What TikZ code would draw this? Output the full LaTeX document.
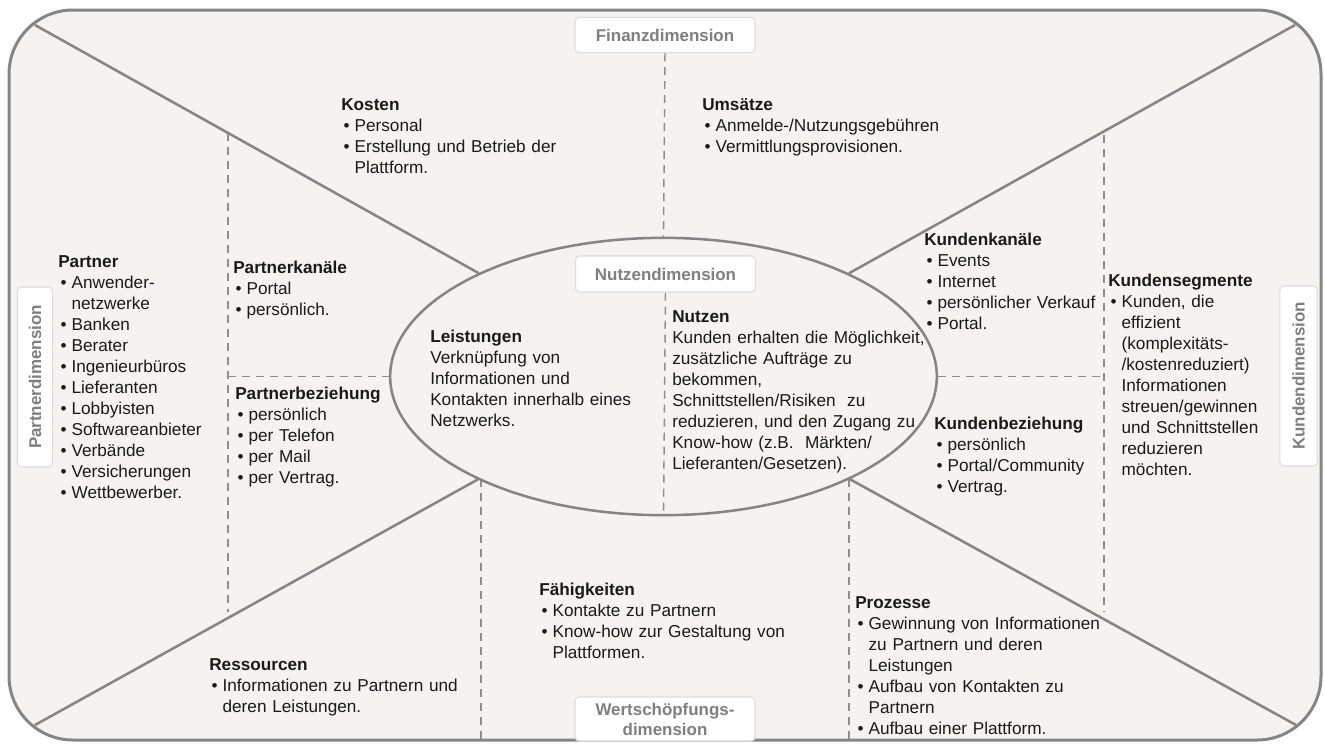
\documentclass[tikz,border=0pt]{standalone}
\usepackage{fontspec}
\setmainfont{Liberation Sans}
\usetikzlibrary{
  backgrounds,
  calc,
  shapes.geometric
}
\setlength{\parindent}{0pt}
\definecolor{ink}{HTML}{1A1A1A}
\definecolor{muted}{HTML}{7F7F7F}
\definecolor{linegray}{HTML}{858585}
\definecolor{dashgray}{HTML}{8E8E8E}
\definecolor{boxline}{HTML}{DCDCDC}
\definecolor{canvasfill}{HTML}{F6F2F2}
\newcommand{\itm}[1]{\par\hangindent=10pt\hangafter=1\noindent\makebox[10pt][l]{\hspace{1.8pt}\textbullet}#1\par}
\newcommand{\hd}[1]{\textbf{#1}}
\tikzset{
  font=\fontsize{12.9}{15.75}\selectfont,
  frame/.style={
    draw=linegray,
    line width=2.25pt,
    rounded corners=48pt,
    fill=canvasfill
  },
  divider/.style={draw=linegray, line width=1.9pt},
  sector/.style={draw=dashgray, line width=1.1pt, dash pattern=on 6pt off 4.5pt},
  core/.style={
    ellipse,
    draw=linegray,
    line width=1.9pt,
    minimum width=410pt,
    minimum height=208pt,
    inner sep=0pt
  },
  dimension/.style={
    draw=boxline,
    line width=0.8pt,
    fill=white,
    rounded corners=3pt,
    text=muted,
    font=\fontsize{12.7}{15}\selectfont\bfseries,
    align=center,
    minimum width=135pt,
    minimum height=26.5pt,
    inner sep=1pt
  },
  field/.style={anchor=north west, inner sep=0pt, text=ink, align=left, text width=8cm}
}

\begin{document}
\begin{tikzpicture}[x=0.75pt,y=-0.75pt]
  \useasboundingbox (0,0) rectangle (1325,743);

  % Centre ellipse and dimension labels
  \node[core] (nutzen) at (663.5,376.5) {};
  \node[dimension] (finanz) at (665,35) {Finanzdimension};
  \node[dimension, minimum height=27pt] (nutzendim) at (665.5,274) {Nutzendimension};
  \node[dimension, rotate=90] (partnerdim) at (35,377) {Partnerdimension};
  \node[dimension, rotate=90, minimum height=28pt] (kundendim) at (1298.5,376) {Kundendimension};
  \node[dimension, minimum height=33pt, inner sep=0pt] (wertdim) at (665,719)
    {Wertschöpfungs-\\dimension};

  % Corner points of the dividers
  \coordinate (tl) at (35,25);
  \coordinate (tr) at (1295,25);
  \coordinate (bl) at (35,725);
  \coordinate (br) at (1296,725);

  \begin{scope}[on background layer]
    \draw[frame] (9,10) rectangle (1321,740);
    \draw[divider] (tl) -- (nutzen);
    \draw[divider] (tr) -- (nutzen);
    \draw[divider] (bl) -- (nutzen);
    \draw[divider] (br) -- (nutzen);
    % Dashed sector borders
    \draw[sector] (finanz.south) -- (nutzen.north);
    \draw[sector] (nutzendim.south) -- (nutzen.south);
    \draw[sector] (228,133) -- (228,612);
    \draw[sector] (228,376.5) -- (nutzen.west);
    \draw[sector] (1104,135) -- (1104,612);
    \draw[sector] (nutzen.east) -- (1104,376.5);
    \draw[sector] (481,479) -- (481,740);
    \draw[sector] (849,479) -- (849,740);
  \end{scope}

  % Finance dimension
  \node[field] (kosten) at (341,98) {\hd{Kosten}
    \itm{Personal}
    \itm{Erstellung und Betrieb der\newline Plattform.}};
  \node[field] (umsaetze) at (702,98) {\hd{Umsätze}
    \itm{Anmelde-/Nutzungsgebühren}
    \itm{Vermittlungsprovisionen.}};

  % Partner dimension
  \node[field] (partner) at (58,255) {\hd{Partner}
    \itm{Anwender-\newline netzwerke}
    \itm{Banken}
    \itm{Berater}
    \itm{Ingenieurbüros}
    \itm{Lieferanten}
    \itm{Lobbyisten}
    \itm{Softwareanbieter}
    \itm{Verbände}
    \itm{Versicherungen}
    \itm{Wettbewerber.}};
  \node[field] (pkanaele) at (233,261) {\hd{Partnerkanäle}
    \itm{Portal}
    \itm{persönlich.}};
  \node[field] (pbeziehung) at (235,387) {\hd{Partnerbeziehung}
    \itm{persönlich}
    \itm{per Telefon}
    \itm{per Mail}
    \itm{per Vertrag.}};

  % Benefit dimension
  \node[field] (leistungen) at (430,330) {\hd{Leistungen}\newline
    Verknüpfung von\newline
    Informationen und\newline
    Kontakten innerhalb eines\newline
    Netzwerks.};
  \node[field] (nutzentext) at (672,310) {\hd{Nutzen}\newline
    Kunden erhalten die Möglichkeit,\newline
    zusätzliche Aufträge zu\newline
    bekommen,\newline
    Schnittstellen/Risiken \ zu\newline
    reduzieren, und den Zugang zu\newline
    Know-how (z.B.\ \ Märkten/\newline
    Lieferanten/Gesetzen).};

  % Customer dimension
  \node[field] (kkanaele) at (924,233) {\hd{Kundenkanäle}
    \itm{Events}
    \itm{Internet}
    \itm{persönlicher Verkauf}
    \itm{Portal.}};
  \node[field] (kbeziehung) at (934,417) {\hd{Kundenbeziehung}
    \itm{persönlich}
    \itm{Portal/Community}
    \itm{Vertrag.}};
  \node[field] (ksegmente) at (1108,274) {\hd{Kundensegmente}
    \itm{Kunden, die\newline effizient\newline (komplexitäts-\newline /kostenreduziert)\newline
      Informationen\newline streuen/gewinnen\newline und Schnittstellen\newline reduzieren\newline möchten.}};

  % Value creation dimension
  \node[field] (faehigkeiten) at (539,583) {\hd{Fähigkeiten}
    \itm{Kontakte zu Partnern}
    \itm{Know-how zur Gestaltung von\newline Plattformen.}};
  \node[field] (ressourcen) at (209,658) {\hd{Ressourcen}
    \itm{Informationen zu Partnern und\newline deren Leistungen.}};
  \node[field] (prozesse) at (855,596) {\hd{Prozesse}
    \itm{Gewinnung von Informationen\newline zu Partnern und deren\newline Leistungen}
    \itm{Aufbau von Kontakten zu\newline Partnern}
    \itm{Aufbau einer Plattform.}};
\end{tikzpicture}
\end{document}
